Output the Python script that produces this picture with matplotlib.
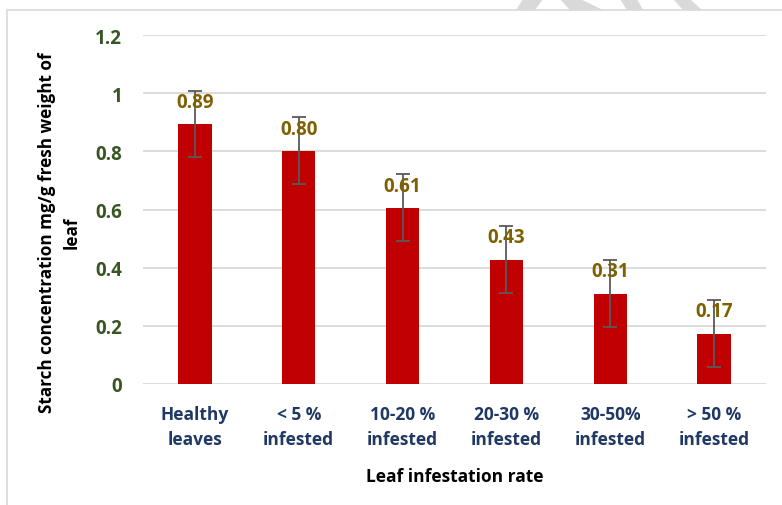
import matplotlib.pyplot as plt
from matplotlib.patches import Rectangle, Polygon

categories = ["Healthy\nleaves", "< 5 %\ninfested", "10-20 %\ninfested",
              "20-30 %\ninfested", "30-50%\ninfested", "> 50 %\ninfested"]
starch = [0.894, 0.802, 0.606, 0.428, 0.311, 0.173]
errors = [0.115, 0.115, 0.115, 0.115, 0.115, 0.115]
labels = ["0.89", "0.80", "0.61", "0.43", "0.31", "0.17"]

plt.rcParams["font.family"] = ["Open Sans", "DejaVu Sans"]
plt.rcParams["font.weight"] = "bold"

W, H = 782, 506
fig = plt.figure(figsize=(W / 100, H / 100), dpi=100)


def px(pts):
    # pixel coords (top-left origin) -> figure fraction
    return [(a / W, 1 - b / H) for a, b in pts]


# bits of the page watermark peeking above the chart frame
for quad in [[(516, 11), (535, 11), (543, 0), (523, 0)],
             [(570, 11), (603, 11), (580, 0), (560, 0)],
             [(627, 11), (643, 11), (637, 0), (620, 0)],
             [(683, 11), (702, 11), (690, 0), (673, 0)]]:
    fig.patches.append(Polygon(px(quad), closed=True, transform=fig.transFigure,
                               facecolor="#D9D9D9", edgecolor="none"))

# light frame round the chart area
fig.patches.append(Rectangle((7 / W, -0.1), 1.2, 1 - 11 / H + 0.1,
                             transform=fig.transFigure, fill=False,
                             edgecolor="#D9D9D9", linewidth=1.2))

ax = fig.add_axes([143 / W, 121 / H, 623 / W, 349 / H])
x = range(len(categories))
ax.bar(x, starch, width=0.32, color="#C00000", zorder=2)
ax.errorbar(x, starch, yerr=errors, fmt="none", ecolor="#595959",
            elinewidth=1.3, capsize=5, capthick=1.3, zorder=3)

for i, (v, t) in enumerate(zip(starch, labels)):
    ax.annotate(t, (i, v), xytext=(0, 16), textcoords="offset points",
                ha="center", va="center", fontsize=13.5, fontweight="bold",
                color="#7F6000", zorder=4)

ax.set_xlim(-0.5, len(categories) - 0.5)
ax.set_ylim(0, 1.2)
ax.set_yticks([0, 0.2, 0.4, 0.6, 0.8, 1, 1.2])
ax.set_yticklabels(["0", "0.2", "0.4", "0.6", "0.8", "1", "1.2"])
ax.set_xticks(list(x))
ax.set_xticklabels(categories, linespacing=1.5)
ax.tick_params(axis="y", colors="#375623", labelsize=13.5, length=0, pad=15)
ax.tick_params(axis="x", colors="#1F3864", labelsize=12.5, length=0, pad=15)
for lab in ax.get_xticklabels() + ax.get_yticklabels():
    lab.set_fontweight("bold")

ax.grid(axis="y", color="#D9D9D9", linewidth=1.3, zorder=0)
for s in ax.spines.values():
    s.set_visible(False)

ax.set_xlabel("Leaf infestation rate", fontsize=12.5, fontweight="bold",
              color="black", labelpad=14)
ax.set_ylabel("Starch concentration mg/g fresh weight of\nleaf", fontsize=12.3,
              fontweight="bold", color="black", linespacing=1.45)
ax.yaxis.set_label_coords(-0.1, 0.435)

fig.savefig("out.png", dpi=100)
